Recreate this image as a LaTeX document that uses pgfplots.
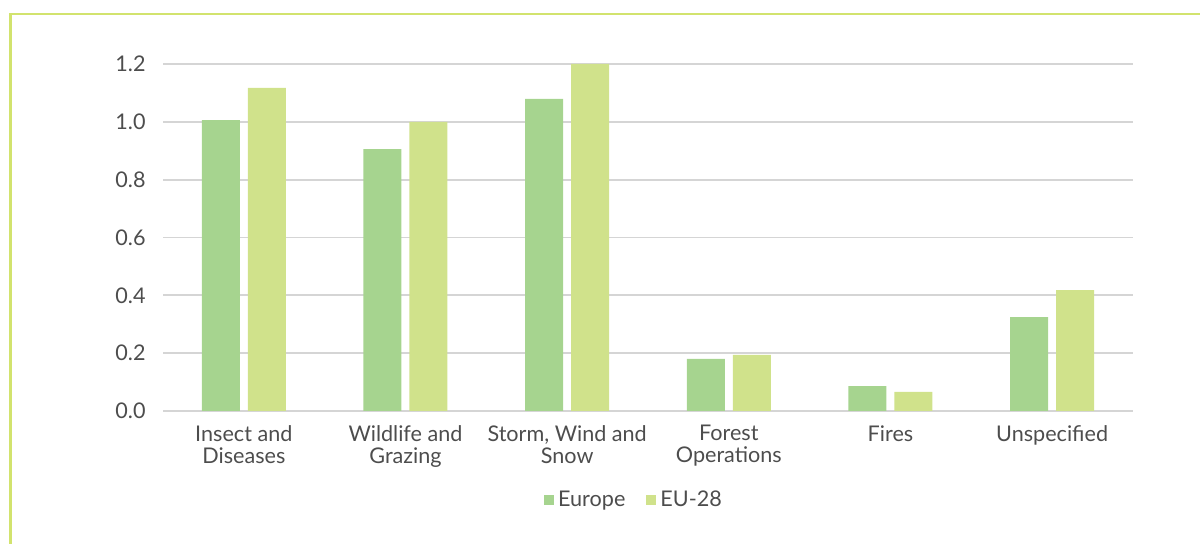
\documentclass[border=0pt]{standalone}
\usepackage{pgfplots}
\pgfplotsset{compat=1.18}
\usepackage{fontspec}
\setmainfont{Lato}
\definecolor{europe}{HTML}{A6D48F}
\definecolor{eutwe}{HTML}{D0E28B}
\definecolor{framec}{HTML}{D2E36E}
\definecolor{gridc}{HTML}{D5D5D5}
\definecolor{txt}{HTML}{4D4D4D}
\begin{document}
\begin{tikzpicture}[x=1pt,y=1pt]
\useasboundingbox (0,0) rectangle (600,272);
\begin{scope}
\clip (0,0) rectangle (600,272);
\draw[framec, line width=1.1pt] (5.25,-10) -- (5.25,265) -- (610,265);
\end{scope}
\begin{axis}[
  at={(81.5pt,66.5pt)}, anchor=south west,
  scale only axis, width=485pt, height=173.5pt,
  xmin=-0.5, xmax=5.5, ymin=0, ymax=1.2,
  ybar=4pt, bar width=19pt,
  axis x line*=bottom, axis y line*=left,
  x axis line style={draw=gridc, line width=0.9pt},
  y axis line style={draw=none},
  ytick={0,0.2,0.4,0.6,0.8,1.0,1.2},
  ymajorgrids, grid style={draw=gridc, line width=0.85pt},
  major tick length=0pt,
  xtick={0,1,2,3,4,5},
  xticklabels={{Insect and\\Diseases},{Wildlife and\\Grazing},{Storm, Wind and\\Snow},{Forest\\Operations},{Fires},{Unspecified}},
  xticklabel style={align=center, inner sep=0pt, yshift=-7pt, text=txt, font=\fontsize{10.8}{11}\selectfont},
  yticklabel style={inner sep=0pt, xshift=-8.5pt, text=txt, font=\fontsize{10.8}{11}\selectfont, /pgf/number format/fixed, /pgf/number format/fixed zerofill, /pgf/number format/precision=1},
  /pgf/number format/assume math mode=true,
  legend style={at={(rel axis cs:0.5,0)}, anchor=center, yshift=-44.5pt, xshift=-6.5pt, draw=none, fill=none, legend columns=2, font=\fontsize{10.8}{11}\selectfont, text=txt, inner sep=0pt,
     /tikz/every even column/.append style={column sep=8.5pt}},
  legend cell align=left,
  legend image code/.code={\fill[#1,draw=none] (0pt,-2.5pt) rectangle (5pt,2.5pt);},
]
\addplot[fill=europe, draw=none] coordinates {(0,1.006) (1,0.906) (2,1.079) (3,0.180) (4,0.086) (5,0.325)};
\addplot[fill=eutwe, draw=none] coordinates {(0,1.117) (1,1.0) (2,1.2) (3,0.194) (4,0.066) (5,0.418)};
\legend{Europe, EU-28}
\end{axis}
\end{tikzpicture}
\end{document}
